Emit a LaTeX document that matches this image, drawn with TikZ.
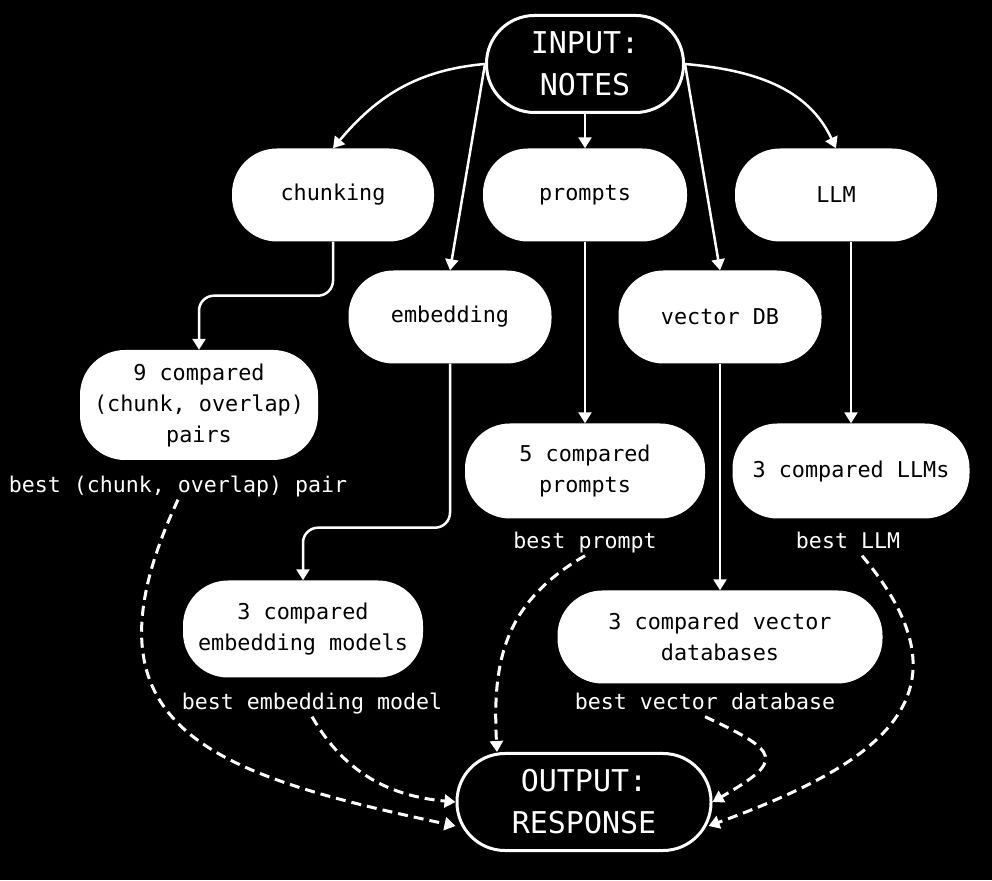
\documentclass[tikz,border=0pt]{standalone}
\usepackage{fontspec}
\setmonofont{DejaVu Sans Mono}
\usepackage{tikz}
\usetikzlibrary{arrows.meta}

\begin{document}
\begin{tikzpicture}[x = 1pt, y = 1pt,
    stage/.style = {fill = white, text = black, rounded corners = 45pt, align = center, inner sep = 0pt, font = \ttfamily\fontsize{21.8}{31}\selectfont},
    endpoint/.style = {draw = white, line width = 3pt, fill = black, text = white, rounded corners = 48pt, align = center, inner sep = 0pt, minimum height = 97pt, font = \ttfamily\fontsize{30}{42}\selectfont},
    best/.style = {text = white, inner sep = 2pt, text height = 16pt, text depth = 5pt, font = \ttfamily\fontsize{21.6}{26}\selectfont},
    flow/.style = {-{Triangle[length = 11pt, width = 13pt]}, white, line width = 2.5pt},
    pick/.style = {flow, dash pattern = on 10pt off 6pt, line width = 3pt}]
    \useasboundingbox (0,0) rectangle (992,880);
    \fill[black] (0,0) rectangle (992,880);

    \node[endpoint, minimum width = 197pt](input) at (585,816) {INPUT:\\NOTES};
    \node[stage, minimum width = 202pt, minimum height = 93pt](chunking) at (333,685) {chunking};
    \node[stage, minimum width = 204pt, minimum height = 93pt](prompts) at (585,685) {prompts};
    \node[stage, minimum width = 202pt, minimum height = 93pt](llm) at (836,685) {LLM};
    \node[stage, minimum width = 203pt, minimum height = 93pt](embedding) at (450,563) {embedding};
    \node[stage, minimum width = 203pt, minimum height = 93pt](vectordb) at (720,563) {vector DB};

    \node[stage, minimum width = 238pt, minimum height = 110pt](pairs) at (199,475) {9 compared\\(chunk, overlap)\\pairs};
    \node[stage, minimum width = 240pt, minimum height = 95pt](comparedPrompts) at (585,409) {5 compared\\prompts};
    \node[stage, minimum width = 237pt, minimum height = 95pt](comparedLLMs) at (851,409) {3 compared LLMs};
    \node[stage, minimum width = 240pt, minimum height = 97pt](comparedEmbeddings) at (303,251) {3 compared\\embedding models};
    \node[stage, minimum width = 325pt, minimum height = 93pt](comparedDBs) at (720,243) {3 compared vector\\databases};

    \node[best](bestPair) at (178,393) {best (chunk, overlap) pair};
    \node[best](bestPrompt) at (585,337) {best prompt};
    \node[best](bestLLM) at (848,337) {best LLM};
    \node[best](bestEmbedding) at (312,176) {best embedding model};
    \node[best](bestDB) at (705,176) {best vector database};

    \node[endpoint, minimum width = 254pt](output) at (584,78) {OUTPUT:\\RESPONSE};

    \draw [flow] (input.west) to[out = 185, in = 50] (chunking.north);
    \draw [flow] (input.west) -- (embedding.north);
    \draw [flow] (input.south) -- (prompts.north);
    \draw [flow] (input.east) -- (vectordb.north);
    \draw [flow] (input.east) to[out = -5, in = 115] (llm.north);

    \draw [flow, rounded corners = 15pt] (chunking.south) -- ++(0,-54) -| (pairs.north);
    \draw [flow, rounded corners = 15pt] (embedding.south) -- ++(0,-164) -| (comparedEmbeddings.north);
    \draw [flow] (prompts.south) -- (comparedPrompts.north);
    \draw [flow] (vectordb.south) -- (comparedDBs.north);
    \draw [flow] (llm.south -| comparedLLMs.north) -- (comparedLLMs.north);

    \draw [pick] (bestPair.south) to[out = -115, in = 168, looseness = 1.5] ([yshift = -24pt]output.west);
    \draw [pick] (bestEmbedding.south) to[out = -60, in = 175] (output.west);
    \draw [pick] (bestPrompt.south) to[out = -150, in = 93, looseness = 1.1] ([xshift = -87pt]output.north);
    \draw [pick] (bestDB.south) to[out = -25, in = 30, looseness = 2.5] (output.east);
    \draw [pick] ([xshift = 14pt]bestLLM.south) to[out = -50, in = 20, looseness = 1.5] ([xshift = -4pt, yshift = -24pt]output.east);
\end{tikzpicture}
\end{document}
